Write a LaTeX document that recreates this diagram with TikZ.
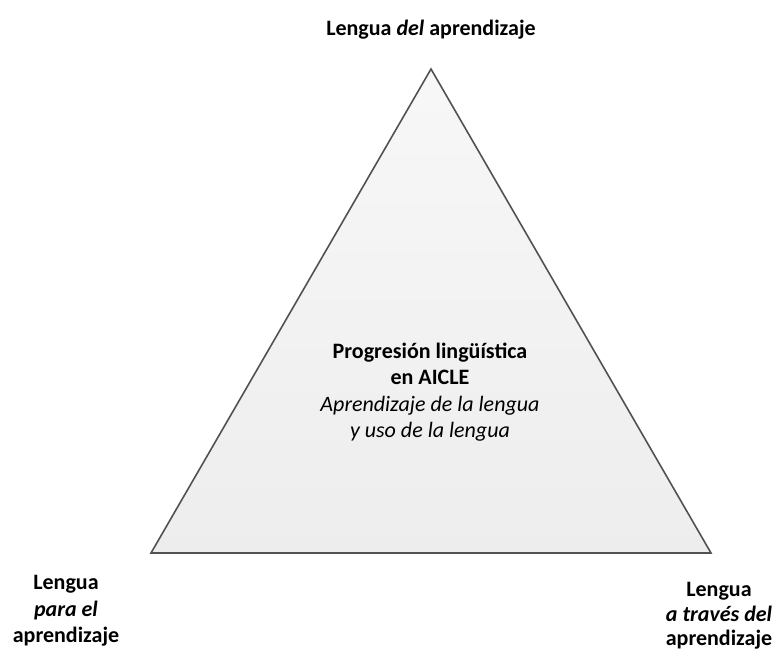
\documentclass[tikz,border=0pt]{standalone}
\usepackage{fontspec}
\setmainfont{Carlito}
\begin{document}
\begin{tikzpicture}[x=1pt, y=-1pt]
    \useasboundingbox (0,0) rectangle (779,651);

    \coordinate (apex) at (431,69);
    \coordinate (left) at (151,553);
    \coordinate (right) at (711,553);

    \draw[draw=black!68, line width=1.6pt, line join=miter, top color=black!3, bottom color=black!7] (apex) -- (right) -- (left) -- cycle;

    \node[font=\fontsize{22}{27}\selectfont\bfseries, align=center] at (431,30) (dellabel) {Lengua \textit{del} aprendizaje};
    \node[font=\fontsize{22}{26.5}\selectfont, align=center] at (430,392) (centerlabel) {\textbf{Progresión lingüística}\\\textbf{en AICLE}\\\textit{Aprendizaje de la lengua}\\\textit{y uso de la lengua}};
    \node[font=\fontsize{22}{26.5}\selectfont\bfseries, align=center] at (66,611) (paralabel) {Lengua\\\textit{para el}\\aprendizaje};
    \node[font=\fontsize{22}{24.5}\selectfont\bfseries, align=center] at (719,616) (traveslabel) {Lengua\\\textit{a través del}\\aprendizaje};
\end{tikzpicture}
\end{document}
